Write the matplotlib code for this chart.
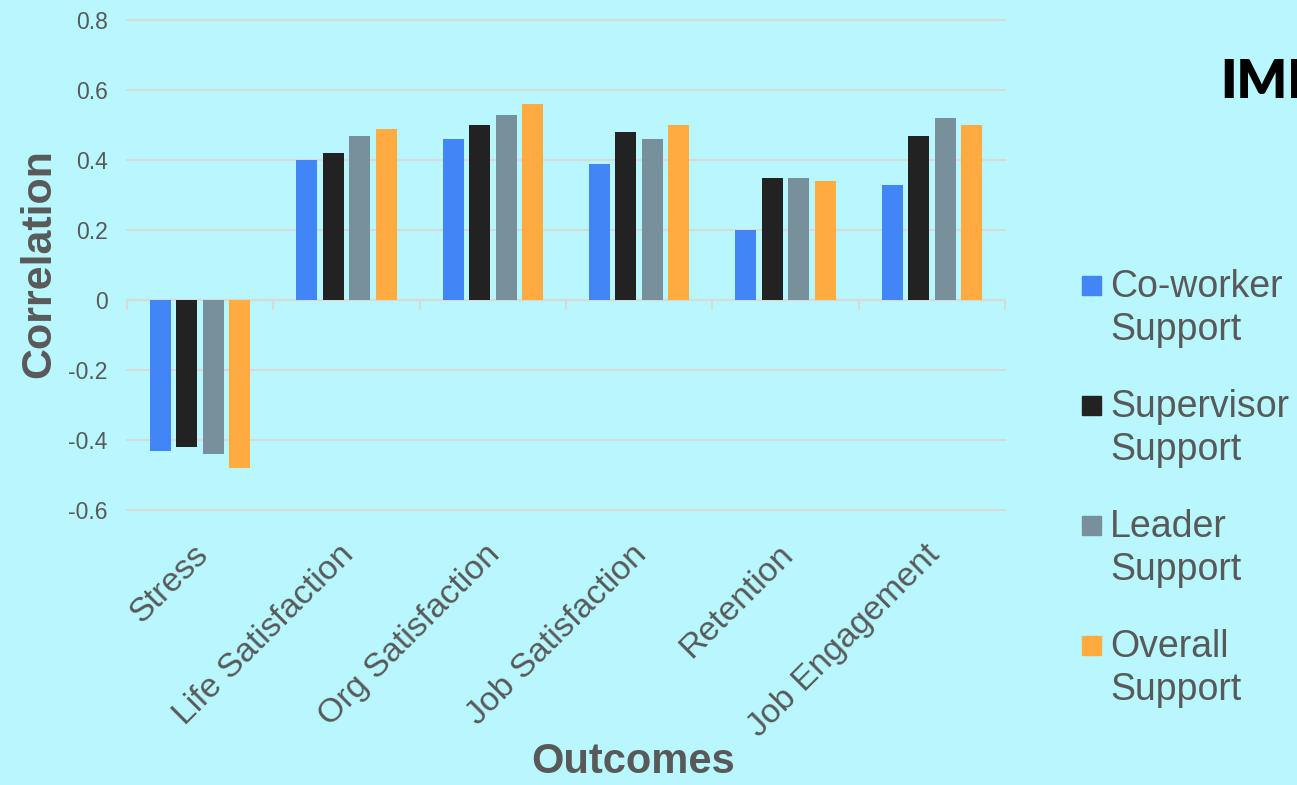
import numpy as np
import matplotlib
matplotlib.use("Agg")
import matplotlib.pyplot as plt
import matplotlib.transforms as mtransforms
from matplotlib.patches import Rectangle

plt.rcParams['font.family'] = ['Liberation Sans', 'DejaVu Sans']

# ---- data ----
categories = ["Stress", "Life Satisfaction", "Org Satisfaction",
              "Job Satisfaction", "Retention", "Job Engagement"]
series_names = ["Co-worker Support", "Supervisor Support",
                "Leader Support", "Overall Support"]
coworker = [-0.43, 0.40, 0.46, 0.39, 0.20, 0.33]
supervisor = [-0.42, 0.42, 0.50, 0.48, 0.35, 0.47]
leader = [-0.44, 0.47, 0.53, 0.46, 0.35, 0.52]
overall = [-0.48, 0.49, 0.56, 0.50, 0.34, 0.50]
y_ticks = [-0.6, -0.4, -0.2, 0.0, 0.2, 0.4, 0.6, 0.8]

series = [coworker, supervisor, leader, overall]
colors = ["#4285F4", "#222222", "#78909C", "#FFAB40"]
BG = "#B9F7FE"
TXT = "#595959"
GRID = "#D9D9D9"

W, H = 1297, 785
fig = plt.figure(figsize=(W / 100, H / 100), dpi=100)
fig.patch.set_facecolor(BG)


def fx(px):
    return px / W


def fy(py):
    return 1 - py / H


ax = fig.add_axes([fx(127), fy(510), 878 / W, 490 / H])
ax.set_facecolor(BG)
ax.set_xlim(0, len(categories))
ax.set_ylim(y_ticks[0], y_ticks[-1])

# grouped bars
pitch = 0.181
width = 0.1435
centers = np.arange(len(categories)) + 0.5
for j, (vals, col) in enumerate(zip(series, colors)):
    ax.bar(centers + (j - 1.5) * pitch, vals, width=width, color=col,
           zorder=3)

# y axis: gridlines + labels
ax.set_yticks(y_ticks)
ax.set_yticklabels([f"{round(v, 1):g}" for v in y_ticks])
ax.tick_params(axis='y', length=0, pad=14, labelsize=16.5, labelcolor=TXT)
ax.yaxis.grid(True, color=GRID, lw=1.5)
for gl in ax.get_ygridlines():
    gl.set_clip_on(False)
ax.set_axisbelow(True)

# category axis drawn along zero
for s in ["top", "right", "left"]:
    ax.spines[s].set_visible(False)
ax.spines["bottom"].set_position(("data", 0))
ax.spines["bottom"].set_color(GRID)
ax.spines["bottom"].set_linewidth(1.5)
ax.spines["bottom"].set_zorder(2)
ax.set_xticks(centers)
ax.set_xticks(np.arange(len(categories) + 1), minor=True)
ax.tick_params(axis='x', which='major', length=0, labelbottom=False)
ax.tick_params(axis='x', which='minor', length=7.5, width=1.5,
               color=GRID, direction='out')

# rotated category labels below the plot area
trans = mtransforms.blended_transform_factory(ax.transData, ax.transAxes)
trans = trans + mtransforms.ScaledTranslation(-8 / 100, 3 / 100,
                                              fig.dpi_scale_trans)
for c, name in zip(centers, categories):
    ax.text(c, -0.065, name, transform=trans, rotation=45,
            rotation_mode='anchor', ha='right', va='top',
            fontsize=24.5, color=TXT, clip_on=False)

# axis titles
fig.text(fx(50), fy(264), "Correlation", rotation=90, rotation_mode='anchor',
         ha='center', va='baseline', fontsize=31, fontweight='bold',
         color=TXT)
fig.text(fx(633.5), fy(773), "Outcomes", ha='center', va='baseline',
         fontsize=30, fontweight='bold', color=TXT)

# legend
first_base = 297
entry_gap = 120
line_gap = 43
for k, (name, col) in enumerate(zip(series_names, colors)):
    base = first_base + k * entry_gap
    fig.add_artist(Rectangle((fx(1082), fy(base - 2)), 19 / W, 19 / H,
                             transform=fig.transFigure, color=col))
    for m, part in enumerate(name.split(" ")):
        fig.text(fx(1110), fy(base + m * line_gap), part, ha='left',
                 va='baseline', fontsize=27, color=TXT)

# heading on the right, running past the figure edge
fig.text(fx(1220), fy(98), "IMP", ha='left', va='baseline',
         fontsize=38, fontweight='heavy', family=['Lato', 'DejaVu Sans'],
         color='black')

fig.savefig("out.png", dpi=100, facecolor=BG)
